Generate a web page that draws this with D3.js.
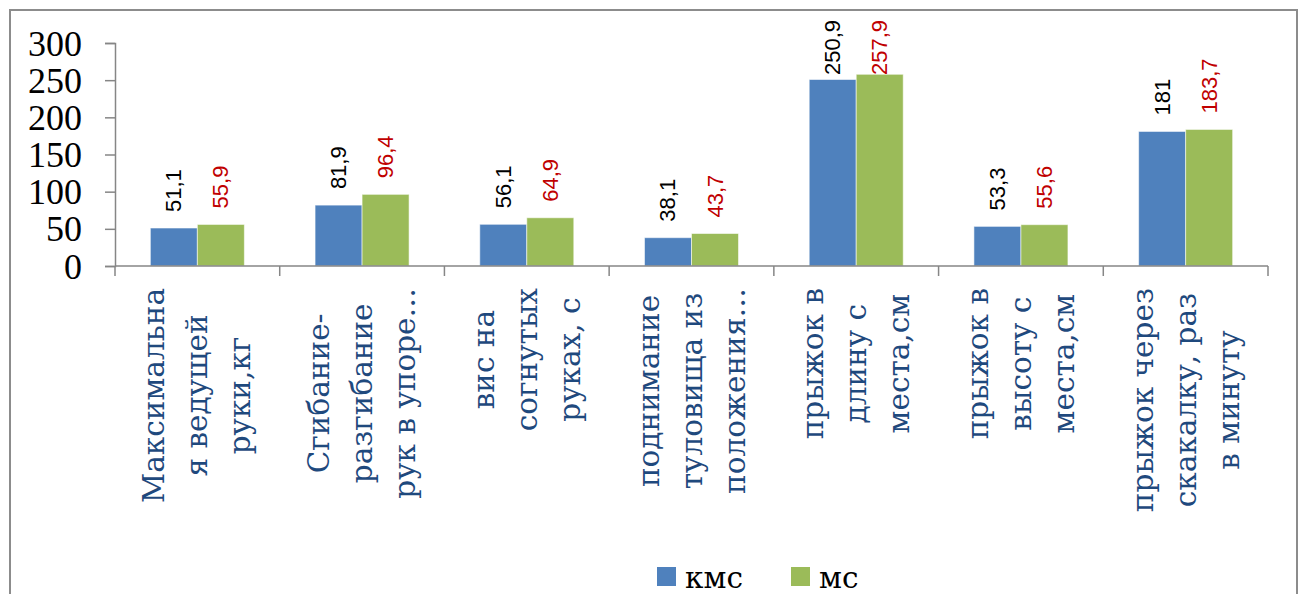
<!DOCTYPE html>
<html>
<head>
<meta charset="utf-8">
<script src="https://cdn.jsdelivr.net/npm/d3@7"></script>
<style>
  html, body { margin: 0; padding: 0; background: #fff; }
  svg { display: block; }
</style>
</head>
<body>
<svg id="chart" width="1300" height="594"></svg>
<script>
// ---- data ----
const categories = [
  "Максимальная ведущей руки,кг",
  "Сгибание-разгибание рук в упоре…",
  "вис на согнутых руках, с",
  "поднимание туловища из положения…",
  "прыжок в длину с места,см",
  "прыжок в высоту с места,см",
  "прыжок через скакалку, раз в минуту"
];
const categoryLines = [
  ["Максимальна", "я ведущей", "руки,кг"],
  ["Сгибание-", "разгибание", "рук в упоре…"],
  ["вис на", "согнутых", "руках, с"],
  ["поднимание", "туловища из", "положения…"],
  ["прыжок в", "длину с", "места,см"],
  ["прыжок в", "высоту с", "места,см"],
  ["прыжок через", "скакалку, раз", "в минуту"]
];
const seriesNames = ["кмс", "мс"];
const kmsValues = [51.1, 81.9, 56.1, 38.1, 250.9, 53.3, 181];
const msValues  = [55.9, 96.4, 64.9, 43.7, 257.9, 55.6, 183.7];
const yTickValues = [0, 50, 100, 150, 200, 250, 300];

const seriesValues = [kmsValues, msValues];
const seriesColors = ["#4f81bd", "#9bbb59"];
const labelColors = ["#000000", "#c00000"];

// ---- layout ----
const svg = d3.select("#chart");
const plot = { left: 115, right: 1268, top: 43, bottom: 266 };
const axisColor = "#868686";
const serif = "'Liberation Serif', serif";
const cyrSerif = "'DejaVu Serif', 'Liberation Serif', serif";
const sans = "'Liberation Sans', Arial, sans-serif";

// outer border
svg.append("rect")
  .attr("x", 10).attr("y", 10)
  .attr("width", 1287).attr("height", 620)
  .attr("fill", "none").attr("stroke", "#8c8c8c").attr("stroke-width", 2);

const x = d3.scaleBand().domain(categories).range([plot.left, plot.right]).padding(0);
const xSub = d3.scaleBand().domain(seriesNames).range([0, x.bandwidth()])
  .paddingInner(0).paddingOuter(0.752);
const y = d3.scaleLinear().domain([0, 300]).range([plot.bottom, plot.top]);

// y axis
const yAxis = svg.append("g")
  .attr("transform", `translate(${plot.left},0)`)
  .call(d3.axisLeft(y).tickValues(yTickValues).tickSize(10).tickPadding(23).tickFormat(d3.format("d")));
yAxis.select(".domain").attr("stroke", axisColor).attr("stroke-width", 1.5);
yAxis.selectAll(".tick line").attr("stroke", axisColor).attr("stroke-width", 1.5);
yAxis.selectAll(".tick text")
  .attr("fill", "#000").attr("font-family", serif).attr("font-size", 36)
  .attr("dy", null).attr("dominant-baseline", "central");

// bars
const rows = categories.map((c, i) => ({ cat: c, vals: seriesNames.map((s, j) => ({ s, j, v: seriesValues[j][i] })) }));
const groups = svg.append("g").selectAll("g").data(rows).join("g")
  .attr("transform", d => `translate(${x(d.cat)},0)`);

groups.selectAll("rect").data(d => d.vals).join("rect")
  .attr("x", d => xSub(d.s))
  .attr("width", xSub.bandwidth())
  .attr("y", d => y(d.v))
  .attr("height", d => y(0) - y(d.v))
  .attr("fill", d => seriesColors[d.j])
  .attr("stroke", "rgba(255,255,255,0.55)")
  .attr("stroke-width", 1);

// x axis line and ticks at band boundaries
const xAxisG = svg.append("g");
xAxisG.append("line")
  .attr("x1", plot.left).attr("x2", plot.right)
  .attr("y1", y(0)).attr("y2", y(0))
  .attr("stroke", axisColor).attr("stroke-width", 1.5);
const boundaries = categories.map(c => x(c)).concat([x(categories[categories.length - 1]) + x.bandwidth()]);
xAxisG.selectAll("line.tk").data(boundaries).join("line")
  .attr("class", "tk")
  .attr("x1", d => d).attr("x2", d => d)
  .attr("y1", y(0)).attr("y2", y(0) + 10)
  .attr("stroke", axisColor).attr("stroke-width", 1.5);

// data labels
const fmt = v => String(v).replace(".", ",");
const labelTop = 20, gap = 16;
groups.selectAll("text.val").data(d => d.vals).join("text")
  .attr("class", "val")
  .text(d => fmt(d.v))
  .attr("font-family", sans).attr("font-size", 22)
  .attr("fill", d => labelColors[d.j])
  .attr("text-anchor", "start")
  .attr("dominant-baseline", "central")
  .each(function(d) {
    const len = this.getComputedTextLength();
    let start = y(d.v) - gap;
    if (start - len < labelTop) start = labelTop + len;
    const cx = xSub(d.s) + xSub.bandwidth() / 2;
    d3.select(this).attr("transform", `translate(${cx},${start}) rotate(-90)`);
  });

// category labels (rotated, multi-line, centered within block)
const catTop = 288, lineStep = 43;
categories.forEach((c, i) => {
  const lines = categoryLines[i];
  const g = svg.append("g");
  const texts = g.selectAll("text").data(lines).join("text")
    .text(d => d)
    .attr("font-family", cyrSerif).attr("font-size", 29.5)
    .attr("fill", "#1f497d")
    .attr("text-anchor", "middle")
    .attr("dominant-baseline", "central");
  let maxLen = 0;
  texts.each(function() { maxLen = Math.max(maxLen, this.getComputedTextLength()); });
  const cx = x(c) + x.bandwidth() / 2;
  const cy = catTop + maxLen / 2;
  texts.attr("transform", (d, k) => {
    const off = (k - (lines.length - 1) / 2) * lineStep;
    return `translate(${cx + off},${cy}) rotate(-90)`;
  });
});

// legend
const legendX = [657, 791];
const legend = svg.append("g").selectAll("g").data(seriesNames).join("g")
  .attr("transform", (d, i) => `translate(${legendX[i]},567)`);
legend.append("rect").attr("width", 19).attr("height", 19)
  .attr("fill", (d, i) => seriesColors[i]);
legend.append("text").text(d => d)
  .attr("x", 28).attr("y", 21)
  .attr("font-family", cyrSerif).attr("font-size", 29.5).attr("fill", "#000");
</script>
</body>
</html>
